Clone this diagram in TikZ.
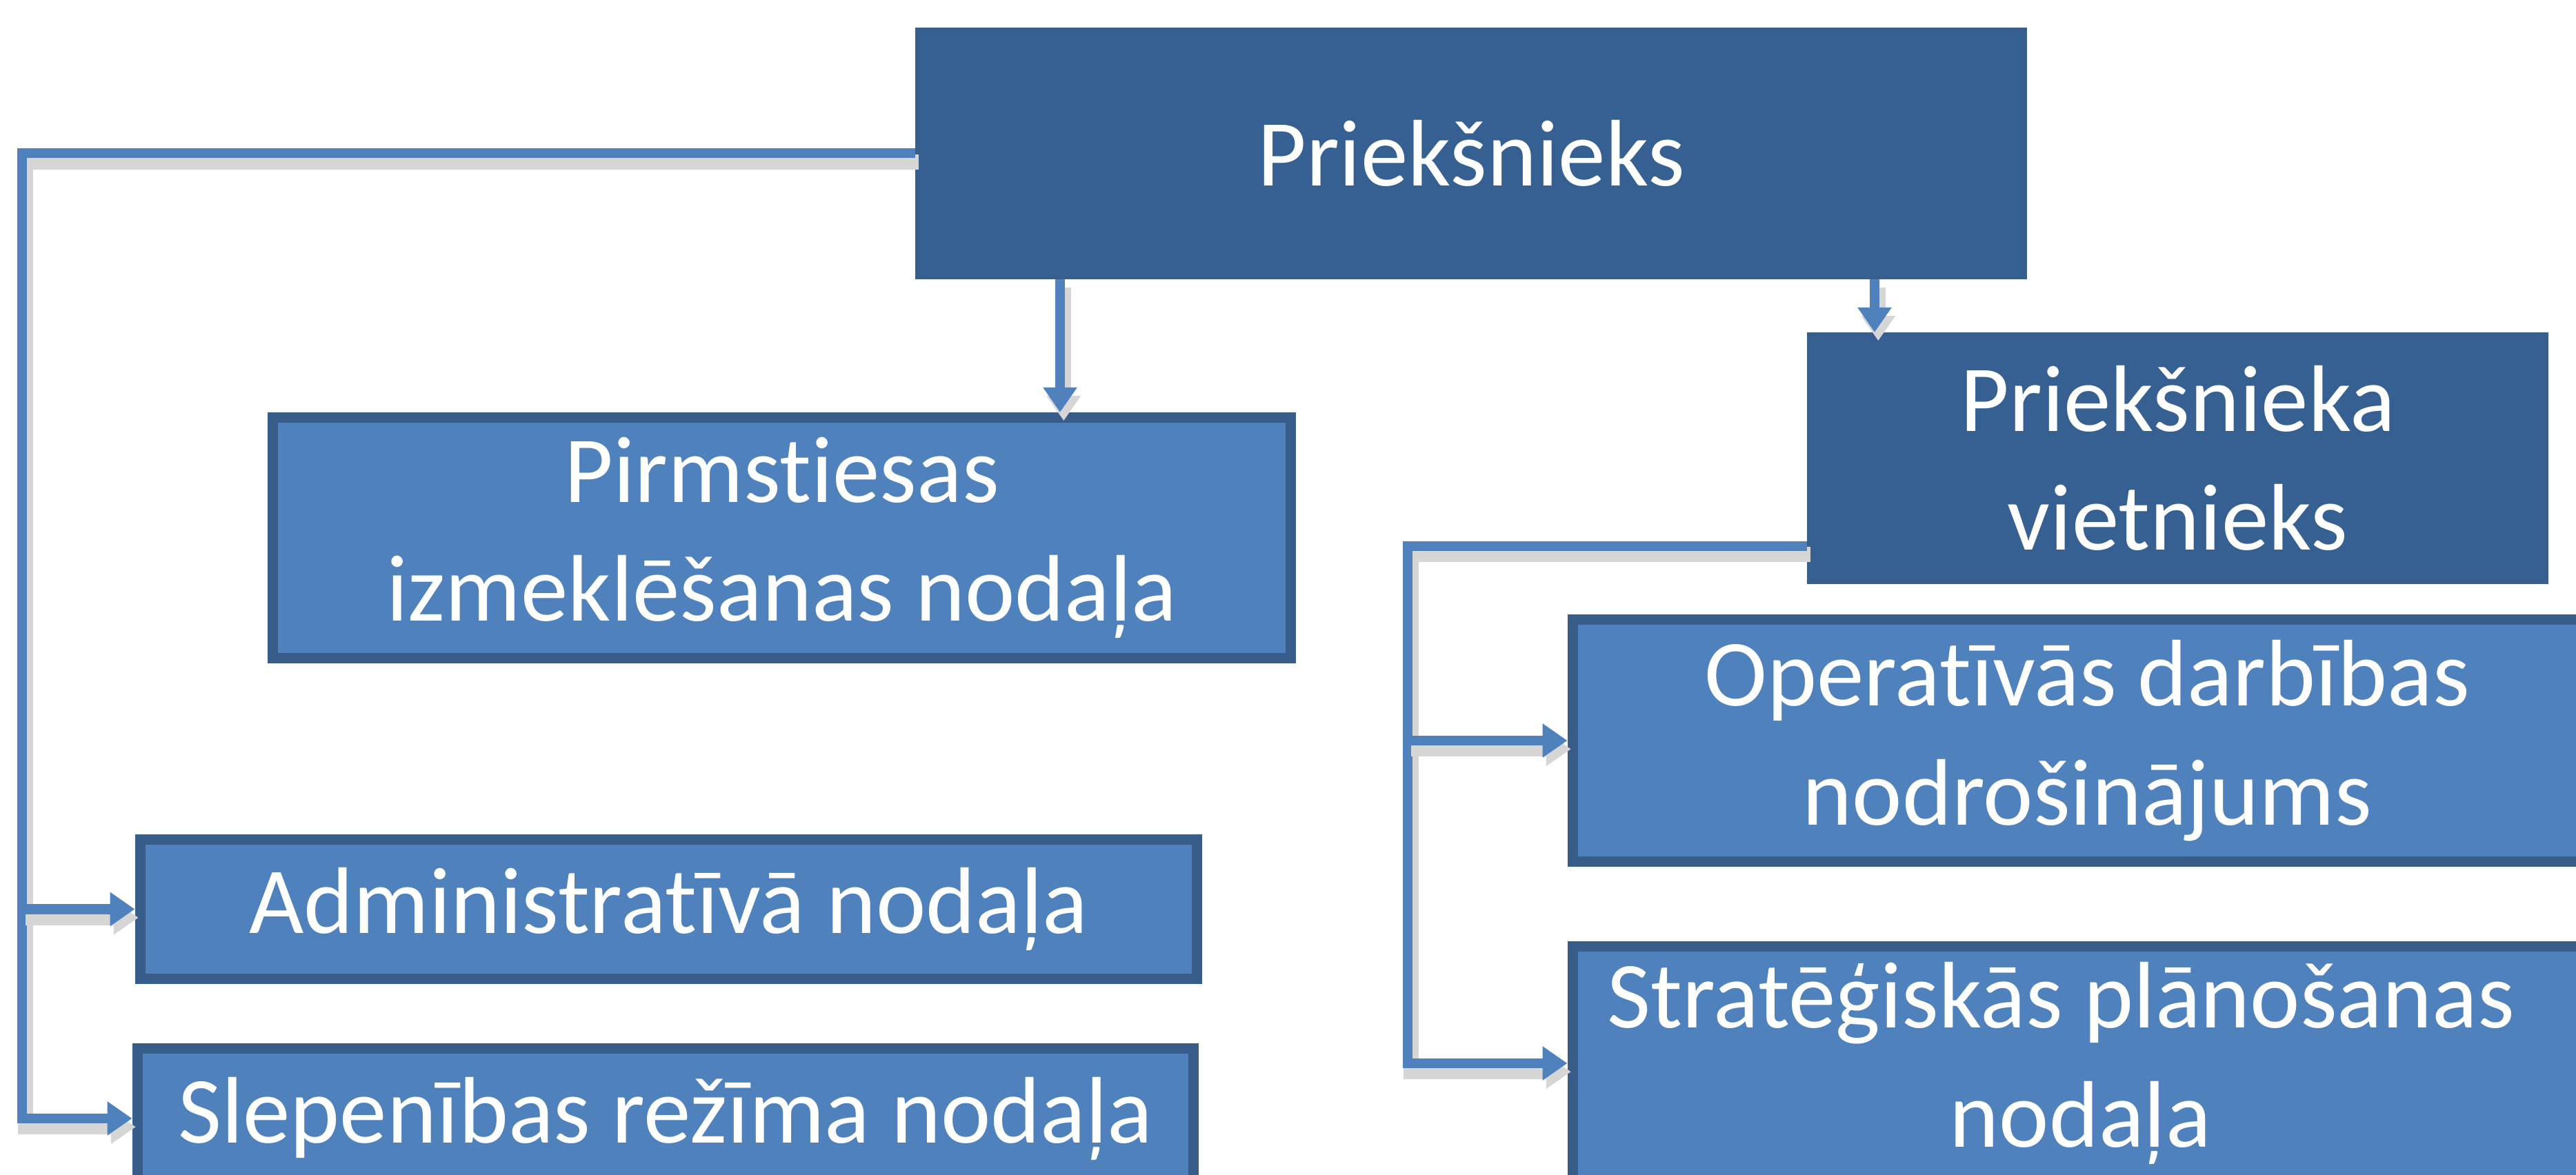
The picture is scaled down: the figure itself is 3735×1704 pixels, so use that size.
\documentclass[tikz,border=0pt]{standalone}
\usepackage{fontspec}
\setmainfont{Carlito}[Ligatures={NoCommon,NoContextual,NoRare}]
\usetikzlibrary{arrows.meta}
\definecolor{darkfill}{HTML}{376092}
\definecolor{darkline}{HTML}{3A5E8C}
\definecolor{lightfill}{HTML}{4F81BD}
\definecolor{boxline}{HTML}{385D8A}
\definecolor{conn}{HTML}{4F81BD}
\tikzset{
  boxtext/.style={text=white, font=\fontsize{39}{49}\selectfont, align=center, inner sep=0pt},
  darkbox/.style={boxtext, rectangle, fill=darkfill, draw=darkline, line width=0.05cm},
  lightbox/.style={boxtext, rectangle, fill=lightfill, draw=boxline, line width=0.15cm},
  conline/.style={draw=conn, line width=0.14cm,
    preaction={draw=black!16, line width=0.22cm, transform canvas={shift={(1.5pt,-3.5pt)}}}},
  arr/.style={conline, -{Triangle[length=0.36cm, width=0.47cm]}}
}
\begin{document}
\begin{tikzpicture}[x=0.01cm, y=-0.01cm]
\useasboundingbox (0,0) rectangle (3735,1704);
\fill[white] (0,0) rectangle (3735,1704);
\clip (0,0) rectangle (3735,1704);

% boxes
\node[darkbox, minimum width=16.07cm, minimum height=3.60cm] (pk) at (2133,222.5) {Priekšnieks};
\node[lightbox, minimum width=14.76cm, minimum height=3.49cm] (pirm) at (1133.5,780) {Pirmstiesas\\izmeklēšanas nodaļa};
\node[darkbox, minimum width=10.70cm, minimum height=3.60cm] (viet) at (3157.5,664.5) {Priekšnieka\\vietnieks};
\node[lightbox, minimum width=15.02cm, minimum height=3.51cm] (oper) at (3031.5,1074) {Operatīvās darbības\hspace*{0.1cm}\\nodrošinājums\hspace*{0.1cm}};
\node[lightbox, minimum width=15.02cm, minimum height=3.39cm] (strat) at (3031.5,1542) {Stratēģiskās plānošanas\hspace*{0.86cm}\\nodaļa\hspace*{0.3cm}};
\node[lightbox, minimum width=15.32cm, minimum height=2.02cm] (adm) at (969.5,1318.5) {Administratīvā nodaļa};
\node[lightbox, minimum width=15.31cm, minimum height=2.03cm] (slep) at (965,1622) {Slepenības režīma nodaļa};

% bus coordinates
\coordinate (lbus) at (32,223);
\coordinate (rbus) at (2041,792);
\coordinate (pirmx) at (1537,0);
\coordinate (vietx) at (2718,0);

% connectors
\draw[arr] (pk.west) -| (lbus |- slep.west) -- (slep.west);
\draw[arr] (lbus |- adm.west) -- (adm.west);
\draw[arr] (pk.south -| pirmx) -- (pirm.north -| pirmx);
\draw[arr] (pk.south -| vietx) -- (viet.north -| vietx);
\draw[arr] (viet.west |- rbus) -| (rbus |- strat.west) -- (strat.west);
\draw[arr] (rbus |- oper.west) -- (oper.west);
\end{tikzpicture}
\end{document}
